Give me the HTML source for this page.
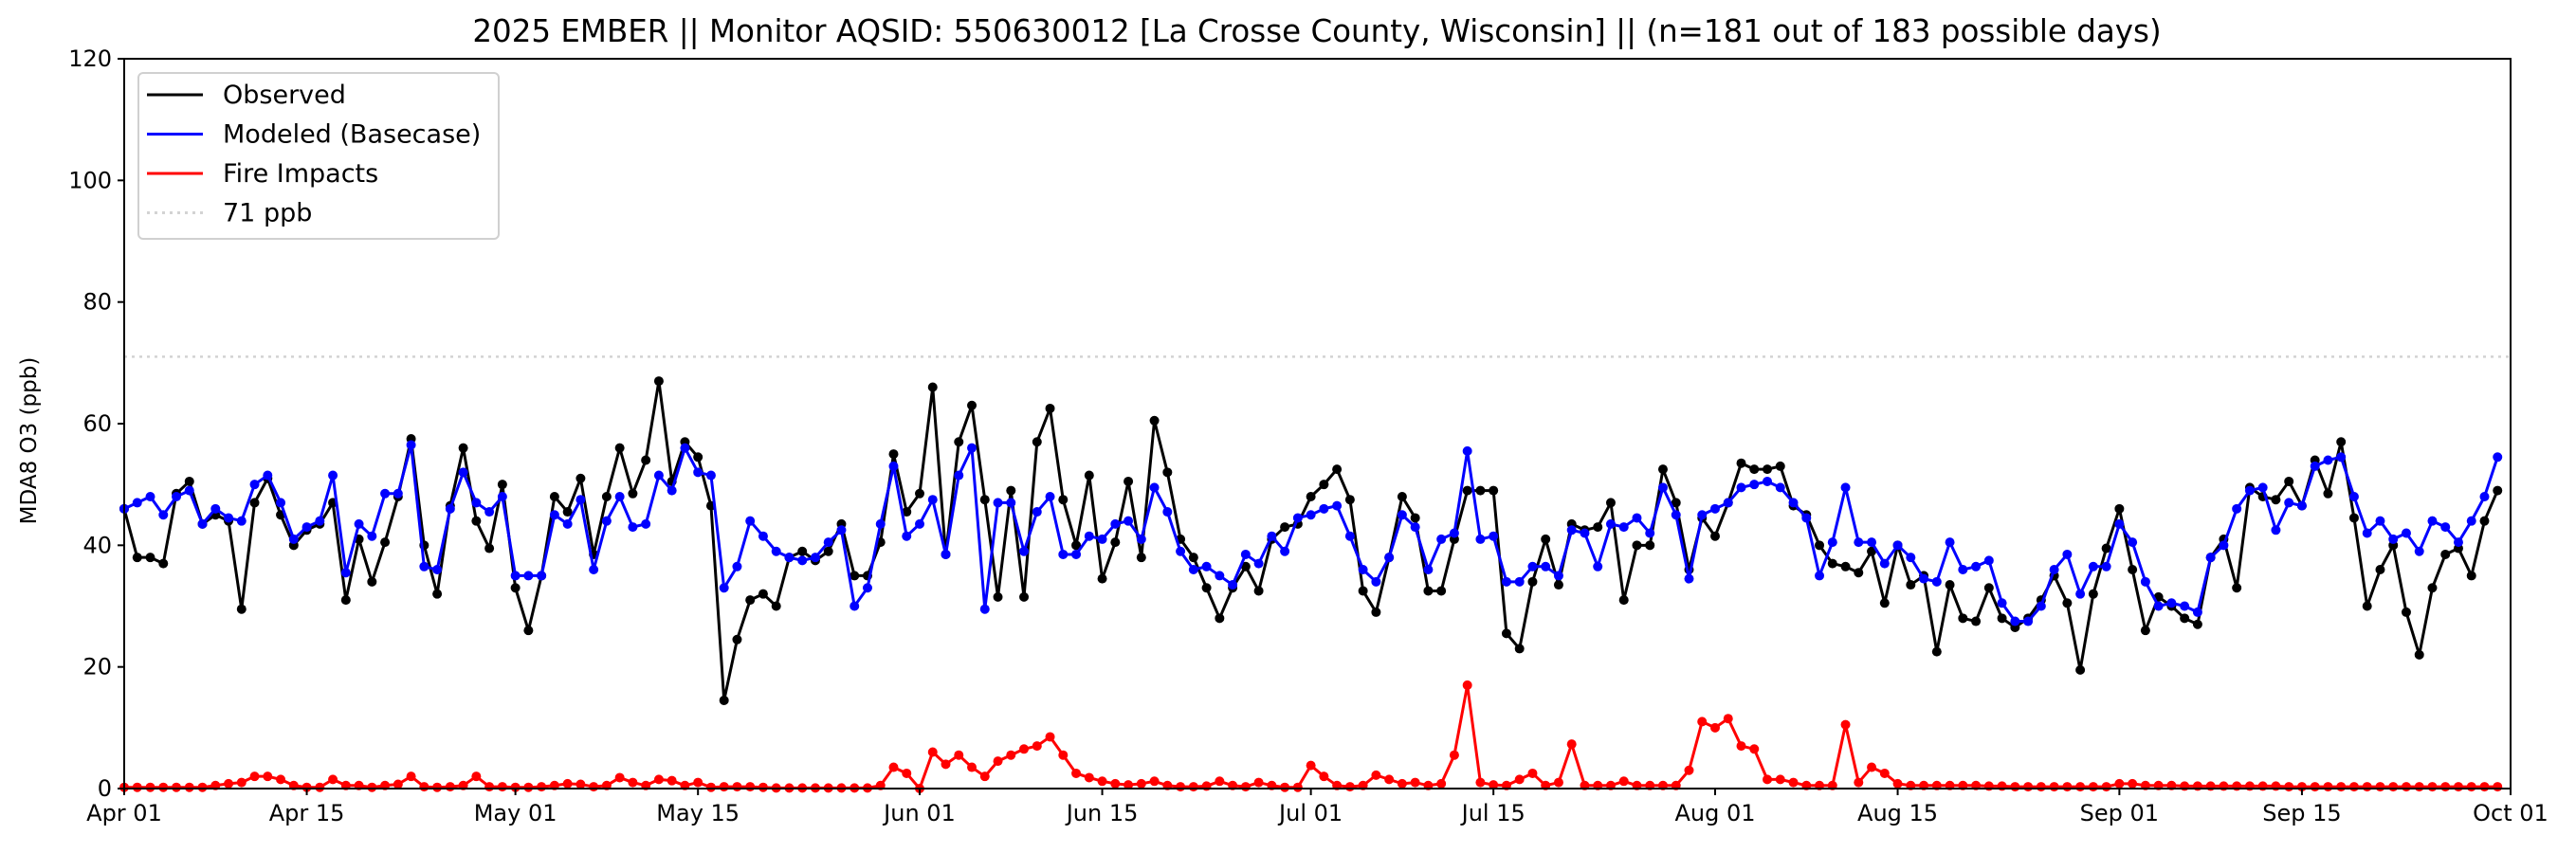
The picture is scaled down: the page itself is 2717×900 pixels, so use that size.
<!DOCTYPE html>
<html><head><meta charset="utf-8"><style>
html,body{margin:0;padding:0;background:#fff;width:2717px;height:900px;overflow:hidden}
svg{display:block;font-family:"DejaVu Sans","Liberation Sans",sans-serif}
</style></head><body>
<svg id="chart" width="2717" height="900" viewBox="0 0 2717 900" xmlns="http://www.w3.org/2000/svg">
<text x="1389" y="44" font-size="32.5" text-anchor="middle">2025 EMBER || Monitor AQSID: 550630012 [La Crosse County, Wisconsin] || (n=181 out of 183 possible days)</text>
<text x="0" y="0" font-size="23" text-anchor="middle" transform="translate(38,465) rotate(-90)">MDA8 O3 (ppb)</text>
<g id="plot"></g>
</svg>
<script>
const observed=[46,38,38,37,48.5,50.5,43.5,45,44,29.5,47,51,45,40,42.5,43.5,47,31,41,34,40.5,48,57.5,40,32,46.5,56,44,39.5,50,
33,26,35,48,45.5,51,38.5,48,56,48.5,54,67,50.5,57,54.5,46.5,14.5,24.5,31,32,30,38,39,37.5,39,43.5,35,35,40.5,55,45.5,
48.5,66,38.5,57,63,47.5,31.5,49,31.5,57,62.5,47.5,40,51.5,34.5,40.5,50.5,38,60.5,52,41,38,33,28,33,36.5,32.5,41,43,43.5,
48,50,52.5,47.5,32.5,29,38,48,44.5,32.5,32.5,41,49,49,49,25.5,23,34,41,33.5,43.5,42.5,43,47,31,40,40,52.5,47,36,44.5,
41.5,47,53.5,52.5,52.5,53,46.5,45,40,37,36.5,35.5,39,30.5,40,33.5,35,22.5,33.5,28,27.5,33,28,26.5,28,31,35,30.5,19.5,32,39.5,
46,36,26,31.5,30,28,27,38,41,33,49.5,48,47.5,50.5,46.5,54,48.5,57,44.5,30,36,40,29,22,33,38.5,39.5,35,44,49];
const modeled=[46,47,48,45,48,49,43.5,46,44.5,44,50,51.5,47,41,43,44,51.5,35.5,43.5,41.5,48.5,48.5,56.5,36.5,36,46,52,47,45.5,48,
35,35,35,45,43.5,47.5,36,44,48,43,43.5,51.5,49,56,52,51.5,33,36.5,44,41.5,39,38,37.5,38,40.5,42.5,30,33,43.5,53,41.5,
43.5,47.5,38.5,51.5,56,29.5,47,47,39,45.5,48,38.5,38.5,41.5,41,43.5,44,41,49.5,45.5,39,36,36.5,35,33.5,38.5,37,41.5,39,44.5,
45,46,46.5,41.5,36,34,38,45,43,36,41,42,55.5,41,41.5,34,34,36.5,36.5,35,42.5,42,36.5,43.5,43,44.5,42,49.5,45,34.5,45,
46,47,49.5,50,50.5,49.5,47,44.5,35,40.5,49.5,40.5,40.5,37,40,38,34.5,34,40.5,36,36.5,37.5,30.5,27.5,27.5,30,36,38.5,32,36.5,36.5,
43.5,40.5,34,30,30.5,30,29,38,40,46,49,49.5,42.5,47,46.5,53,54,54.5,48,42,44,41,42,39,44,43,40.5,44,48,54.5];
const fire=[0.2,0.2,0.2,0.2,0.2,0.2,0.2,0.5,0.8,1,2,2,1.5,0.5,0.2,0.2,1.5,0.5,0.5,0.2,0.5,0.7,2,0.3,0.2,0.3,0.5,2,0.3,0.3,
0.2,0.2,0.3,0.5,0.8,0.7,0.3,0.5,1.8,1,0.5,1.5,1.3,0.5,1,0.2,0.3,0.3,0.3,0.2,0.1,0.1,0.1,0.1,0.1,0.1,0.1,0.1,0.5,3.5,2.5,
0,6,4,5.5,3.5,2,4.5,5.5,6.5,7,8.5,5.5,2.5,1.8,1.2,0.8,0.6,0.8,1.2,0.5,0.3,0.3,0.4,1.2,0.5,0.3,1,0.5,0.2,0.2,
3.8,2,0.5,0.3,0.5,2.2,1.5,0.8,1,0.5,0.8,5.5,17,1,0.6,0.5,1.5,2.5,0.5,1,7.3,0.5,0.5,0.5,1.2,0.5,0.5,0.5,0.5,3,11,
10,11.5,7,6.5,1.5,1.5,1,0.5,0.5,0.5,10.5,1,3.5,2.5,0.8,0.5,0.5,0.5,0.5,0.5,0.5,0.4,0.4,0.3,0.3,0.3,0.3,0.3,0.3,0.3,0.3,
0.8,0.8,0.5,0.5,0.5,0.4,0.4,0.4,0.4,0.4,0.4,0.4,0.4,0.3,0.3,0.3,0.3,0.3,0.3,0.3,0.3,0.3,0.3,0.3,0.3,0.3,0.3,0.3,0.3,0.3];
const yTicks=[0,20,40,60,80,100,120];
const xTickDays=[0,14,30,44,61,75,91,105,122,136,153,167,183];
const xTickLabels=["Apr 01","Apr 15","May 01","May 15","Jun 01","Jun 15","Jul 01","Jul 15","Aug 01","Aug 15","Sep 01","Sep 15","Oct 01"];
const threshold=71;

const L=131,R=2648,T=62,B=832,NS="http://www.w3.org/2000/svg";
const xs=d=>L+(R-L)*d/183;
const ys=v=>B-(B-T)*v/120;
const g=document.getElementById('plot');
function mk(tag,attrs,parent){const e=document.createElementNS(NS,tag);for(const k in attrs)e.setAttribute(k,attrs[k]);(parent||g).appendChild(e);return e;}

const th=mk('line',{x1:L,x2:R,y1:ys(threshold),y2:ys(threshold),stroke:'#d3d3d3','stroke-width':2.5,'stroke-dasharray':'3,5'});



function series(vals,color,name){
  const grp=mk('g',{});
  
  
  const pts=vals.map((v,i)=>xs(i)+','+ys(v)).join(' ');
  const pl=mk('polyline',{points:pts,fill:'none',stroke:color,'stroke-width':3,'stroke-linejoin':'round'},grp);
  
  
  vals.forEach((v,i)=>{
    const c=mk('circle',{cx:xs(i),cy:ys(v),r:5,fill:color},grp);
    
    
  });
}
series(observed,'#000','observed');
series(modeled,'#0000ff','modeled');
series(fire,'#ff0000','fire-impacts');

const fr=mk('rect',{x:L,y:T,width:R-L,height:B-T,fill:'none',stroke:'#000','stroke-width':2});



yTicks.forEach(v=>{
  const tl=mk('line',{x1:L-7,x2:L,y1:ys(v),y2:ys(v),stroke:'#000','stroke-width':2});
  
  
  const t=mk('text',{x:L-13,y:ys(v)+8,'font-size':24,'text-anchor':'end'});
  t.textContent=v;
  
  
});
xTickDays.forEach((d,i)=>{
  const tl=mk('line',{x1:xs(d),x2:xs(d),y1:B,y2:B+7,stroke:'#000','stroke-width':2});
  
  
  const t=mk('text',{x:xs(d),y:B+34,'font-size':24,'text-anchor':'middle'});
  t.textContent=xTickLabels[i];
  
  
});

const lg=mk('g',{});


mk('rect',{x:146,y:77,width:380,height:175,rx:5,fill:'#fff','fill-opacity':0.8,stroke:'#d0d0d0','stroke-width':2},lg);
const items=[['Observed','#000',''],['Modeled (Basecase)','#0000ff',''],['Fire Impacts','#ff0000',''],['71 ppb','#d3d3d3','3,5']];
items.forEach((it,i)=>{
  const y=100+i*41.5;
  const e=mk('g',{},lg);
  
  
  const ln=mk('line',{x1:155,x2:214,y1:y,y2:y,stroke:it[1],'stroke-width':3},e);
  if(it[2])ln.setAttribute('stroke-dasharray',it[2]);
  const t=mk('text',{x:235,y:y+9,'font-size':27},e);
  t.textContent=it[0];
});
</script>
</body></html>
